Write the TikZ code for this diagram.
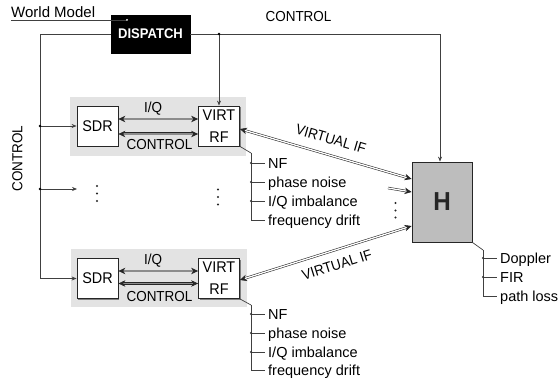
\documentclass[tikz,border=0pt]{standalone}
\usepackage{fontspec}
\setmainfont{Liberation Sans}[FakeStretch=0.93]
\newfontfamily\widef{Liberation Sans}
\usetikzlibrary{arrows.meta,shadows}
\begin{document}
\begin{tikzpicture}[x=1pt,y=-1pt,
  font=\fontsize{14.5}{16}\selectfont,
  ln/.style={draw=black!75, line width=0.7pt},
  tip/.style={-{Stealth[length=5pt,width=4pt]}},
  dtip/.style={{Stealth[length=7pt,width=6.5pt]}-{Stealth[length=7pt,width=6.5pt]}},
  rtip/.style={-{Stealth[length=7pt,width=6.5pt]}},
  box/.style={draw=black!85, line width=0.8pt, fill=white, minimum width=41pt, minimum height=40pt,
    inner sep=0pt, align=center, font=\fontsize{15.5}{22}\selectfont,
    general shadow={fill=black!50, shadow xshift=1.3pt, shadow yshift=-1.3pt}},
  grp/.style={fill=black!11, draw=none},
  jdot/.style={circle, fill=black, inner sep=0pt, minimum size=2.6pt},
  pdot/.style={circle, fill=black!80, inner sep=0pt, minimum size=2.2pt},
  dblg/.style={draw=black!85, line width=0.6pt, double=black!45, double distance=1.1pt},
  dblc/.style={draw=black!85, line width=0.6pt, double=black!45, double distance=1.8pt},
  dblw/.style={draw=black!85, line width=0.55pt, double=white, double distance=1.3pt},
  lbl/.style={inner sep=0pt},
  par/.style={anchor=west, inner sep=3pt, text height=10.4pt, text depth=0pt,
    font=\widef\fontsize{14.5}{16}\selectfont}
]
\useasboundingbox (0,0) rectangle (560,385);
\fill[white] (0,0) rectangle (560,385);

% groups
\fill[grp] (70,97) rectangle (246,156);
\fill[grp] (71,249) rectangle (247,307);

% dispatch
\node[fill=black, draw=black, minimum width=79pt, minimum height=38pt, inner sep=0pt,
  text=white, font=\fontsize{14}{14}\selectfont\bfseries] (dispatch) at (150.5,34) {DISPATCH};
\node[anchor=base west, inner sep=0pt, font=\widef\fontsize{15}{16}\selectfont] (wm) at (11,18) {World Model};
\coordinate (wmend) at (127,20);
\draw[ln, line width=0.6pt] ([yshift=-2pt]wm.base west) -- (wmend);
\node[pdot, fill=white, minimum size=2pt] at (wmend) {};

% boxes
\node[box] (sdrA) at (97.5,126) {SDR};
\node[box] (virtA) at (219,126) {VIRT\\RF};
\node[box] (sdrB) at (97.5,278.5) {SDR};
\node[box] (virtB) at (219,278.5) {VIRT\\RF};

% H
\node[draw=black!85, line width=0.8pt, fill=black!26, minimum width=60pt, minimum height=80pt, inner sep=0pt,
  font=\fontsize{26}{26}\selectfont\bfseries, text=black!85,
  general shadow={fill=black!85, shadow xshift=1.4pt, shadow yshift=-1.4pt}] (H) at (442,202) {H};

% labels
\node[lbl] (ctop) at (298.5,17) {CONTROL};
\node[lbl, rotate=90] (cleft) at (17.5,158.5) {CONTROL};

% control lines
\coordinate (cl) at (40,34);
\coordinate (cr) at (440,34);
\coordinate (midL) at (77,189);
\draw[ln, tip] (dispatch.west) -- (cl) |- (sdrB.west);
\draw[ln, tip] (cl |- sdrA.west) -- (sdrA.west);
\draw[ln, tip] (cl |- midL) -- (midL);
\node[jdot] at (cl |- sdrA.west) {};
\node[jdot] at (cl |- midL) {};
\draw[ln, tip] (dispatch.east) -- (cr) -- (cr |- H.north);
\draw[ln, tip] (virtA.north |- cl) -- (virtA.north);
\node[jdot] at (virtA.north |- cl) {};

% I/Q and CONTROL arrows
\draw[dblg, dtip] ([yshift=7pt]sdrA.east) -- ([yshift=7pt]virtA.west);
\draw[dblc, dtip] ([yshift=-8pt]sdrA.east) -- ([yshift=-8pt]virtA.west);
\node[lbl] (iqA) at (153,108.5) {I/Q};
\node[lbl] (ctA) at (159.5,145) {CONTROL};
\draw[dblg, dtip] ([yshift=7.5pt]sdrB.east) -- ([yshift=7.5pt]virtB.west);
\draw[dblc, dtip] ([yshift=-5pt]sdrB.east) -- ([yshift=-5pt]virtB.west);
\node[lbl] (iqB) at (153,260.5) {I/Q};
\node[lbl] (ctB) at (159.5,297) {CONTROL};

% virtual IF
\draw[dblw, dtip] ([yshift=-3pt]virtA.east) -- ([yshift=23pt]H.west);
\coordinate (vmid) at (388,188);
\draw[dblw, rtip] (vmid) -- ([yshift=10pt]H.west);
\draw[dblw, dtip] ([yshift=-1.5pt]virtB.east) -- ([yshift=-24pt]H.west);
\node[lbl, rotate=-16.3] (vifA) at (331,139) {VIRTUAL IF};
\node[lbl, rotate=17.4] (vifB) at (337,265) {VIRTUAL IF};

% ellipsis dots
\foreach \x/\ya/\yb/\yc in {97/186/193.5/201, 218/189.5/197/204.5, 395.5/203/210.5/217.5}{
  \foreach \yy in {\ya,\yb,\yc} \fill[black!85] (\x,\yy) circle (1.2pt);
}

% parameters top
\coordinate (pa) at (251,153);
\draw[ln] (virtA.south east) -- (pa);
\node[par] (nfA) at (265,163) {NF};
\node[par] (pnA) at (265,182) {phase noise};
\node[par] (iqiA) at (265,201) {I/Q imbalance};
\node[par] (fdA) at (265,220) {frequency drift};
\draw[ln] (pa) |- (fdA.west);
\foreach \n in {nfA,pnA,iqiA}{\draw[ln] (pa |- \n.west) -- (\n.west); \node[pdot] at (pa |- \n.west) {};}

% parameters bottom
\coordinate (pb) at (251,305);
\draw[ln] (virtB.south east) -- (pb);
\node[par] (nfB) at (265,314) {NF};
\node[par] (pnB) at (265,333) {phase noise};
\node[par] (iqiB) at (265,352) {I/Q imbalance};
\node[par] (fdB) at (265,370.5) {frequency drift};
\draw[ln] (pb) |- (fdB.west);
\foreach \n in {nfB,pnB,iqiB}{\draw[ln] (pb |- \n.west) -- (\n.west); \node[pdot] at (pb |- \n.west) {};}

% channel params
\coordinate (ph) at (483,250);
\draw[ln] (H.south east) -- (ph);
\node[par] (dop) at (497,258) {Doppler};
\node[par] (fir) at (497,277) {FIR};
\node[par] (pl) at (497,296) {path loss};
\draw[ln] (ph) |- (pl.west);
\foreach \n in {dop,fir}{\draw[ln] (ph |- \n.west) -- (\n.west); \node[pdot] at (ph |- \n.west) {};}
\end{tikzpicture}
\end{document}
